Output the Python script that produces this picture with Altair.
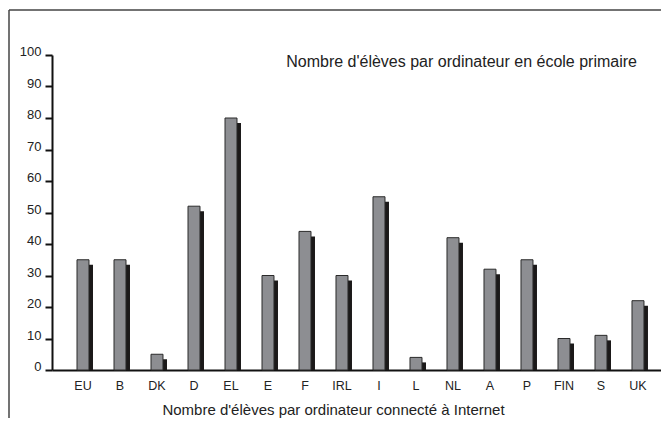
import altair as alt
import pandas as pd

# Data
countries = ["EU", "B", "DK", "D", "EL", "E", "F", "IRL", "I", "L", "NL", "A", "P", "FIN", "S", "UK"]
pupils_per_pc = [35, 35, 5, 52, 80, 30, 44, 30, 55, 4, 42, 32, 35, 10, 11, 22]
y_ticks = [0, 10, 20, 30, 40, 50, 60, 70, 80, 90, 100]

top_label = "Nombre d'élèves par ordinateur en école primaire"
x_title = "Nombre d'élèves par ordinateur connecté à Internet"

df = pd.DataFrame({"pays": countries, "valeur": pupils_per_pc})

FONT = "Liberation Sans"
W, H = 609, 315

x_enc = alt.X(
    "pays:N",
    sort=countries,
    scale=alt.Scale(paddingInner=0.676, paddingOuter=0.568, align=0.595),
    axis=alt.Axis(
        title=x_title,
        labelAngle=0,
        ticks=False,
        labelPadding=9,
        labelFontSize=12.5,
        labelColor="#222222",
        labelFont=FONT,
        domainColor="#111111",
        domainWidth=2,
        titleFont=FONT,
        titleFontSize=15,
        titleFontWeight="normal",
        titleColor="#222222",
        titleX=281,
        titleY=44,
        titleAlign="center",
        titleBaseline="alphabetic",
    ),
)

y_enc = alt.Y(
    "valeur:Q",
    scale=alt.Scale(domain=[0, 100], nice=False),
    axis=alt.Axis(
        title=None,
        values=y_ticks,
        grid=False,
        tickSize=7,
        tickWidth=2,
        tickColor="#111111",
        domainColor="#111111",
        domainWidth=2,
        labelPadding=4,
        labelOffset=-3.5,
        labelFontSize=13,
        labelColor="#222222",
        labelFont=FONT,
    ),
)

shadow = alt.Chart(df).mark_bar(
    color="#1b1919", xOffset=4, yOffset=5, y2Offset=0
).encode(x=x_enc, y=y_enc, y2=alt.datum(0))

bars = alt.Chart(df).mark_bar(
    color="#8d8e92", stroke="#2a2a2a", strokeWidth=1
).encode(x=x_enc, y=y_enc)

one = pd.DataFrame({"t": [top_label]})

label = alt.Chart(one).mark_text(
    align="right", baseline="alphabetic", font=FONT, fontSize=16, color="#222222"
).encode(x=alt.value(585), y=alt.value(12), text="t:N")

frame_left = alt.Chart(one).mark_rule(color="#444444", strokeWidth=1.5).encode(
    x=alt.value(-43), y=alt.value(-45), y2=alt.value(400)
)
frame_top = alt.Chart(one).mark_rule(color="#444444", strokeWidth=1.5).encode(
    x=alt.value(-43), x2=alt.value(640), y=alt.value(-45)
)

chart = (
    alt.layer(shadow, bars, label, frame_left, frame_top)
    .properties(
        width=W,
        height=H,
        autosize=alt.AutoSizeParams(type="none"),
        padding={"left": 44, "top": 47, "right": 0, "bottom": 48},
        background="white",
    )
    .configure_view(stroke=None)
)

chart.save("out.html", embed_options={"renderer": "svg", "actions": False})
